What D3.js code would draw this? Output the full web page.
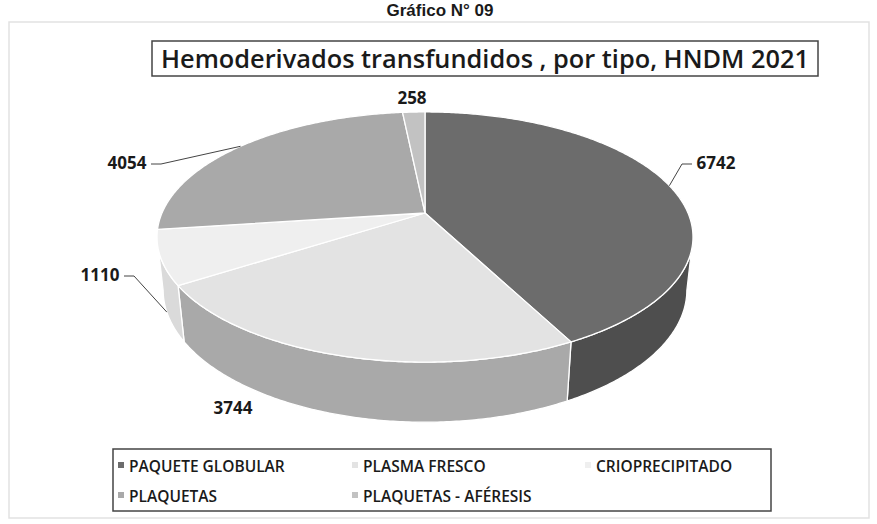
<!DOCTYPE html>
<html>
<head>
<meta charset="utf-8">
<script src="https://cdn.jsdelivr.net/npm/d3@7"></script>
<style>
  body { margin: 0; background: #fff; }
  text { font-family: "Open Sans", "Noto Sans", sans-serif; fill: #1a1a1a; }
</style>
</head>
<body>
<svg id="chart" width="877" height="524"></svg>
<script>
// 3D pie (perspective) of transfused blood products by type
var categories = ['PAQUETE GLOBULAR', 'PLASMA FRESCO', 'CRIOPRECIPITADO', 'PLAQUETAS', 'PLAQUETAS - AFÉRESIS'];
var values = [6742, 3744, 1110, 4054, 258];

var topColors = ['#6c6c6c', '#e3e3e3', '#efefef', '#a9a9a9', '#c2c2c2'];
var sideColors = ['#4e4e4e', '#a9a9a9', '#dadada', '#8c8c8c', '#9c9c9c'];

// label text positions and where leaders touch the pie (h: 0 rim, 1 bottom of side)
var labelXY = [[716, 169], [233, 414], [100, 281], [127, 169], [412, 104]];
var leaderH = [0, null, 1, 0, null];

var svg = d3.select('#chart');

// camera / projection
var cx = 425, cy = 213, k = 263;
var phi = 27.26 * Math.PI / 180;
var sinP = Math.sin(phi), cosP = Math.cos(phi);
var D = 4.63, depth = 0.228;

function proj(theta, h, r) {
	if (r === undefined) r = 1;
	var x = r * Math.sin(theta), zf = r * Math.cos(theta), y = -h * depth;
	var v = y * cosP + zf * sinP;
	var w = zf * cosP - y * sinP;
	var s = D / (D + w);
	return [cx + k * x * s, cy - k * v * s];
}

function arcPoints(t0, t1, h) {
	var n = Math.max(2, Math.ceil(Math.abs(t1 - t0) / 0.01));
	return d3.range(n + 1).map(function(i) { return proj(t0 + (t1 - t0) * i / n, h); });
}

var line = d3.line();

var pie = d3.pie().sort(null).startAngle(0).endAngle(2 * Math.PI);
var arcs = pie(values);

// outer frame
svg.append('rect')
	.attr('x', 9).attr('y', 22).attr('width', 860).attr('height', 496)
	.attr('fill', 'none').attr('stroke', '#e2e2e2').attr('stroke-width', 1.5);

// top caption
svg.append('text')
	.attr('x', 440).attr('y', 16)
	.attr('text-anchor', 'middle')
	.style('font-family', 'Liberation Sans, Arial, sans-serif')
	.style('font-weight', 'bold').style('font-size', '17px')
	.text('Gráfico N° 09');

// title box
svg.append('rect')
	.attr('x', 152).attr('y', 41).attr('width', 666).attr('height', 35)
	.attr('fill', '#fff').attr('stroke', '#444').attr('stroke-width', 1.5);
svg.append('text')
	.attr('x', 161).attr('y', 68)
	.attr('textLength', 648).attr('lengthAdjust', 'spacingAndGlyphs')
	.style('font-weight', 600).style('font-size', '25px')
	.text('Hemoderivados transfundidos , por tipo, HNDM 2021');

// side walls (front half only)
var vis0 = Math.acos(-cosP / D), vis1 = 2 * Math.PI - vis0;
var pieG = svg.append('g');
arcs.forEach(function(a, i) {
	var t0 = Math.max(a.startAngle, vis0), t1 = Math.min(a.endAngle, vis1);
	if (t1 <= t0) return;
	var pts = arcPoints(t0, t1, 0).concat(arcPoints(t1, t0, 1));
	pieG.append('path')
		.attr('d', line(pts) + 'Z')
		.attr('fill', sideColors[i])
		.attr('stroke', '#fff').attr('stroke-width', 1.3).attr('stroke-linejoin', 'round');
});

// top faces
arcs.forEach(function(a, i) {
	var pts = [proj(0, 0, 0)].concat(arcPoints(a.startAngle, a.endAngle, 0));
	pieG.append('path')
		.attr('d', line(pts) + 'Z')
		.attr('fill', topColors[i])
		.attr('stroke', '#fff').attr('stroke-width', 1.3).attr('stroke-linejoin', 'round')
		.append('title').text(categories[i] + ': ' + values[i]);
});

// data labels and leaders
arcs.forEach(function(a, i) {
	var mid = (a.startAngle + a.endAngle) / 2;
	var lx = labelXY[i][0], ly = labelXY[i][1];
	if (leaderH[i] !== null) {
		var p = proj(mid, leaderH[i]);
		var toRight = p[0] > lx;
		var ex = lx + (toRight ? 24 : -24), ey = ly - 5;
		var ex2 = ex + (toRight ? 10 : -10);
		svg.append('path')
			.attr('d', 'M' + ex + ',' + ey + 'L' + ex2 + ',' + ey + 'L' + p[0] + ',' + p[1])
			.attr('fill', 'none').attr('stroke', '#444').attr('stroke-width', 1);
	}
	svg.append('text')
		.attr('x', lx).attr('y', ly)
		.attr('text-anchor', 'middle')
		.style('font-weight', 700).style('font-size', '17px')
		.text(values[i]);
});

// legend
svg.append('rect')
	.attr('x', 113).attr('y', 449).attr('width', 658).attr('height', 62)
	.attr('fill', '#fff').attr('stroke', '#444').attr('stroke-width', 1.5);
var legX = [118, 352, 585], legY = [472, 502];
categories.forEach(function(c, i) {
	var x = legX[i % 3], y = legY[Math.floor(i / 3)];
	svg.append('rect')
		.attr('x', x).attr('y', y - 10).attr('width', 6).attr('height', 6)
		.attr('fill', topColors[i]);
	svg.append('text')
		.attr('x', x + 11).attr('y', y)
		.style('font-weight', 600).style('font-size', '15.5px')
		.text(c);
});
</script>
</body>
</html>
